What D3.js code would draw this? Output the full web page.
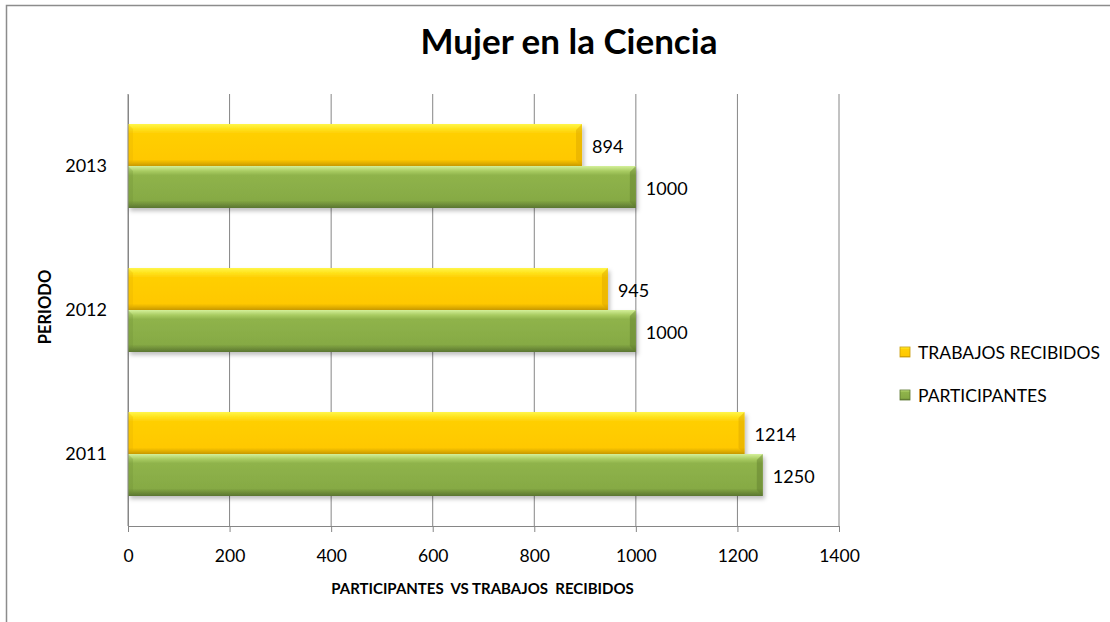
<!DOCTYPE html>
<html>
<head>
<meta charset="utf-8">
<script src="https://cdn.jsdelivr.net/npm/d3@7"></script>
<style>
  body { margin: 0; background: #fff; }
  text { font-family: Lato, "Open Sans", sans-serif; fill: #000; }
</style>
</head>
<body>
<div id="chart-area"></div>
<script>
// data
const periods = ["2011", "2012", "2013"]
const series = ["TRABAJOS RECIBIDOS", "PARTICIPANTES"]
const trabajos = [1214, 945, 894]
const participantes = [1250, 1000, 1000]
const xTicks = [0, 200, 400, 600, 800, 1000, 1200, 1400]

const W = 1110, H = 622
const MARGIN = { LEFT: 128, RIGHT: 271, TOP: 94, BOTTOM: 96 }
const WIDTH = W - MARGIN.LEFT - MARGIN.RIGHT
const HEIGHT = H - MARGIN.TOP - MARGIN.BOTTOM

const svg = d3.select("#chart-area").append("svg")
    .attr("width", W)
    .attr("height", H)

// gradients
const defs = svg.append("defs")
const grads = {
    yellow: [["0%", "#fff64a"], ["12%", "#ffe21a"], ["22%", "#ffcf05"], ["85%", "#ffc800"], ["100%", "#c99a05"]],
    green: [["0%", "#d4f09a"], ["12%", "#a9cc62"], ["22%", "#8fb34b"], ["82%", "#86aa44"], ["100%", "#5a7530"]]
}
Object.entries(grads).forEach(([k, stops]) => {
    const lg = defs.append("linearGradient").attr("id", "g-" + k)
        .attr("x1", 0).attr("y1", 0).attr("x2", 0).attr("y2", 1)
    stops.forEach(s => lg.append("stop").attr("offset", s[0]).attr("stop-color", s[1]))
})
defs.append("filter").attr("id", "shadow")
    .attr("x", "-5%").attr("y", "-20%").attr("width", "110%").attr("height", "150%")
    .append("feDropShadow")
    .attr("dx", 2).attr("dy", 3).attr("stdDeviation", 2)
    .attr("flood-color", "#000").attr("flood-opacity", 0.25)

// outer border (chart area, cropped)
svg.append("rect")
    .attr("x", 6.5).attr("y", 5.5)
    .attr("width", W + 20).attr("height", H + 20)
    .attr("fill", "none").attr("stroke", "#8c8c8c").attr("stroke-width", 1.5)

const g = svg.append("g").attr("transform", `translate(${MARGIN.LEFT},${MARGIN.TOP})`)

// scales
const x = d3.scaleLinear().domain([0, 1400]).range([0, WIDTH])
const y = d3.scaleBand().domain(periods.slice().reverse()).range([0, HEIGHT])
    .paddingInner(0.4167).paddingOuter(0.2083)
const ySub = d3.scaleBand().domain(series).range([0, y.bandwidth()])

// grid lines
g.selectAll(".grid").data(xTicks.slice(1)).enter().append("line")
    .attr("x1", d => x(d)).attr("x2", d => x(d))
    .attr("y1", 0).attr("y2", HEIGHT)
    .attr("stroke", "#868686").attr("stroke-width", 1)

// x axis
const xAxis = g.append("g").attr("transform", `translate(0,${HEIGHT})`)
    .call(d3.axisBottom(x).tickValues(xTicks).tickFormat(d3.format("d")).tickSize(6).tickPadding(18))
xAxis.select(".domain").attr("stroke", "#868686")
xAxis.selectAll(".tick line").attr("stroke", "#868686")
xAxis.selectAll(".tick text").style("font-size", "17.5px").attr("fill", "#000")

// y axis
const yAxis = g.append("g")
    .call(d3.axisLeft(y).tickSize(0).tickPadding(21))
yAxis.select(".domain").attr("stroke", "#868686")
yAxis.selectAll(".tick text").style("font-size", "18px").attr("fill", "#000")

// bars
const rows = periods.map((p, i) => ({ period: p, values: [trabajos[i], participantes[i]] }))
const groups = g.selectAll(".grp").data(rows).enter().append("g")
    .attr("transform", d => `translate(0,${y(d.period)})`)

const colors = ["yellow", "green"]
groups.each(function (d) {
    const sel = d3.select(this)
    d.values.forEach((v, j) => {
        const yy = ySub(series[j]), h = ySub.bandwidth(), w = x(v)
        sel.append("rect")
            .attr("x", 0).attr("y", yy)
            .attr("width", w).attr("height", h)
            .attr("fill", `url(#g-${colors[j]})`)
            .attr("filter", "url(#shadow)")
        // right bevel
        sel.append("path")
            .attr("d", `M${w},${yy} L${w - 6},${yy + 6} L${w - 6},${yy + h - 6} L${w},${yy + h} Z`)
            .attr("fill", j === 0 ? "#d9a300" : "#5f7d2c").attr("opacity", 0.45)
        // left bevel
        sel.append("path")
            .attr("d", `M0,${yy} L5,${yy + 5} L5,${yy + h - 5} L0,${yy + h} Z`)
            .attr("fill", j === 0 ? "#e0ac00" : "#6a8a35").attr("opacity", 0.25)
        sel.append("text")
            .attr("x", w + 10).attr("y", yy + h / 2 + 2)
            .attr("dy", "0.35em")
            .style("font-size", "18px")
            .text(v)
    })
})

// redraw y axis line on top of bars
g.append("line").attr("x1", 0).attr("x2", 0).attr("y1", 0).attr("y2", HEIGHT)
    .attr("stroke", "#868686")

// titles
svg.append("text")
    .attr("x", 569).attr("y", 54)
    .attr("text-anchor", "middle")
    .style("font-size", "35px").style("font-weight", "bold")
    .text("Mujer en la Ciencia")

svg.append("text")
    .attr("x", MARGIN.LEFT + WIDTH / 2 - 1).attr("y", 594)
    .attr("text-anchor", "middle")
    .attr("xml:space", "preserve")
    .style("white-space", "pre")
    .style("font-size", "15px").style("font-weight", "bold")
    .text("PARTICIPANTES  VS TRABAJOS  RECIBIDOS")

svg.append("text")
    .attr("transform", `translate(51,${MARGIN.TOP + HEIGHT / 2 - 3}) rotate(-90)`)
    .attr("text-anchor", "middle")
    .style("font-size", "16.5px").style("font-weight", "bold")
    .text("PERIODO")

// legend
const legend = svg.append("g").attr("transform", "translate(900,347)")
series.forEach((s, i) => {
    const lg = legend.append("g").attr("transform", `translate(0,${i * 43})`)
    lg.append("rect").attr("width", 10).attr("height", 10)
        .attr("fill", `url(#g-${colors[i]})`)
        .attr("stroke", i === 0 ? "#c99a05" : "#5a7530").attr("stroke-width", 0.8)
    lg.append("text").attr("x", 18).attr("y", 6).attr("dy", "0.35em")
        .style("font-size", "17.5px").text(s)
})
</script>
</body>
</html>
